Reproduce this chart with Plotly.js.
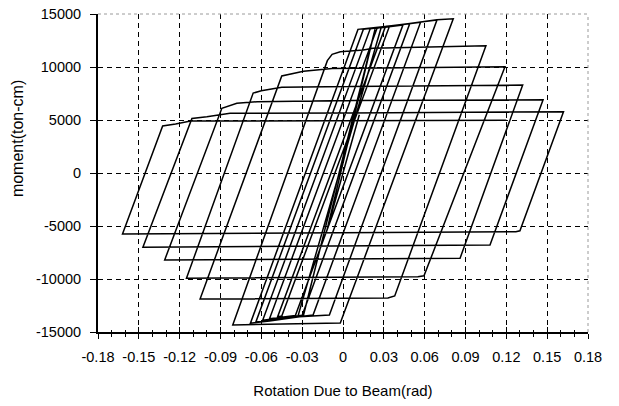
<!DOCTYPE html>
<html><head><meta charset="utf-8">
<script src="https://cdn.plot.ly/plotly-3.0.1.min.js"></script>
<style>html,body{margin:0;padding:0;background:#fff;} #chart{width:619px;height:406px;}</style>
</head><body><div id="chart"></div>
<script>
// Hysteresis path (rotation in rad, moment in ton-cm)
const rotation = [
  0, 0.012, -0.012, 0.0235, -0.029, -0.033,
  0.028, 0.034, -0.045, -0.048,
  0.031, 0.044, -0.035, -0.054,
  0.025, 0.032, 0.049, -0.030, -0.041, -0.059,
  0.020, 0.040, 0.057, -0.022, -0.041, -0.064,
  0.015, 0.032, 0.049, 0.069, -0.010, -0.032, -0.054, -0.068,
  0.011, 0.022, 0.041, 0.057, 0.069, 0.081, -0.002, -0.081,
  -0.0115, -0.008, -0.002, 0.015, 0.022, 0.105, 0.038, 0.033, -0.105,
  -0.045, -0.029, -0.008, 0.119, 0.0595, 0.055, -0.115,
  -0.066, -0.060, -0.045, 0.005, 0.132, 0.086, -0.131,
  -0.089, -0.078, -0.063, 0.005, 0.147, 0.108, -0.147,
  -0.112, -0.111, -0.100, -0.090, -0.083, 0.005, 0.162, 0.130, 0.127, -0.162,
  -0.1325, -0.123, -0.112, 0.12
];
const moment = [
  0, 5500, -5500, 13550, -13400, -13480,
  13700, 13800, -13500, -13550,
  13750, 13950, -13450, -13750,
  13650, 13850, 14080, -13420, -13600, -13900,
  13600, 13900, 14220, -13400, -13700, -14050,
  13570, 13820, 14100, 14430, -13390, -13560, -13960, -14170,
  13550, 13680, 13960, 14250, 14460, 14550, -14150, -14330,
  10600, 11200, 11440, 11600, 11760, 12000, -11600, -11800, -11880,
  9150, 9600, 9870, 10020, -9700, -9790, -9930,
  7540, 7750, 8080, 8150, 8300, -8040, -8200,
  6100, 6570, 6720, 6850, 6900, -6790, -7010,
  4900, 5150, 5310, 5470, 5630, 5650, 5780, -5450, -5540, -5750,
  4430, 4620, 4900, 4980
];
const xTickVals = [-0.18, -0.15, -0.12, -0.09, -0.06, -0.03, 0, 0.03, 0.06, 0.09, 0.12, 0.15, 0.18];
const xTickText = ["-0.18", "-0.15", "-0.12", "-0.09", "-0.06", "-0.03", "0", "0.03", "0.06", "0.09", "0.12", "0.15", "0.18"];
const xGridVals = [-0.15, -0.12, -0.09, -0.06, -0.03, 0, 0.03, 0.06, 0.09, 0.12, 0.15];
const yTickVals = [-15000, -10000, -5000, 0, 5000, 10000, 15000];
const yTickText = ["-15000", "-10000", "-5000", "0", "5000", "10000", "15000"];
const yGridVals = [-10000, -5000, 0, 5000, 10000];
const xTitle = "Rotation Due to Beam(rad)";
const yTitle = "moment(ton-cm)";

const font = {family: "Arial, 'Liberation Sans', sans-serif", size: 14.5, color: "#000"};
const gridDash = "5px,4px";

const traces = [
  {x: rotation, y: moment, type: "scatter", mode: "lines",
   line: {color: "#000", width: 1.5}, hoverinfo: "skip", showlegend: false},
  {x: [], y: [], type: "scatter", mode: "lines", xaxis: "x2", yaxis: "y2", showlegend: false, hoverinfo: "skip"}
];

const layout = {
  width: 619, height: 406,
  margin: {l: 98, r: 31, t: 14, b: 74},
  paper_bgcolor: "#fff", plot_bgcolor: "#fff",
  font: font,
  showlegend: false,
  xaxis: {
    range: [-0.18, 0.18], tickmode: "array", tickvals: xTickVals, ticktext: xTickText,
    ticks: "outside", ticklen: 5, tickwidth: 1, tickcolor: "#000",
    minor: {tickmode: "linear", tick0: 0, dtick: 0.01, ticks: "outside", ticklen: 3, tickcolor: "#000", showgrid: false},
    showline: true, linecolor: "#000", linewidth: 2, showgrid: false, zeroline: false,
    tickfont: font, ticklabelstandoff: 6,
    title: {text: xTitle, font: {family: font.family, size: 15, color: "#000"}, standoff: 21}
  },
  xaxis2: {
    overlaying: "x", anchor: "y2", range: [-0.18, 0.18], tickmode: "array", tickvals: xGridVals,
    ticks: "inside", ticklen: 5, tickcolor: "#000", showticklabels: false,
    minor: {tickmode: "linear", tick0: 0, dtick: 0.01, ticks: "inside", ticklen: 2, tickcolor: "#000", showgrid: false},
    showline: false, zeroline: false,
    showgrid: true, gridcolor: "#000", gridwidth: 1, griddash: gridDash
  },
  yaxis: {
    range: [-15000, 15000], tickmode: "array", tickvals: yTickVals, ticktext: yTickText,
    ticks: "outside", ticklen: 6, tickwidth: 1, tickcolor: "#000",
    showline: true, linecolor: "#000", linewidth: 2, showgrid: false, zeroline: false,
    tickfont: font, ticklabelstandoff: 6
  },
  yaxis2: {
    overlaying: "y", anchor: "x2", range: [-15000, 15000], tickmode: "array", tickvals: yGridVals,
    ticks: "", showticklabels: false, showline: false, zeroline: false,
    showgrid: true, gridcolor: "#000", gridwidth: 1, griddash: gridDash
  },
  shapes: [
    {type: "line", xref: "paper", yref: "paper", x0: 0, x1: 1, y0: 1, y1: 1, line: {color: "#9a9a9a", width: 1, dash: "dot"}},
    {type: "line", xref: "paper", yref: "paper", x0: 1, x1: 1, y0: 0, y1: 1, line: {color: "#9a9a9a", width: 1, dash: "dot"}}
  ],
  annotations: [
    {text: yTitle, xref: "paper", yref: "paper", x: -0.163, y: 0.607, xanchor: "center", yanchor: "middle",
     textangle: -90, showarrow: false, font: {family: font.family, size: 16, color: "#000"}}
  ]
};

Plotly.newPlot("chart", traces, layout, {displayModeBar: false, staticPlot: true});
</script>
</body></html>
